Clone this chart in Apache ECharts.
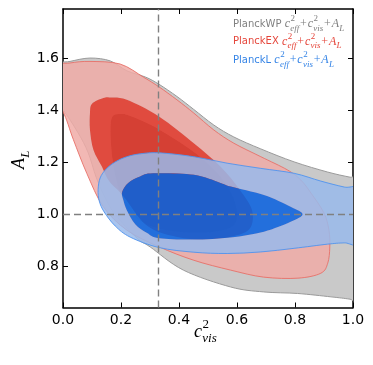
<!DOCTYPE html>
<html lang="en">
<head>
<meta charset="UTF-8">
<title>c_vis^2 - A_L</title>
<script src="https://cdn.jsdelivr.net/npm/echarts@6/dist/echarts.min.js"></script>
<style>html,body{margin:0;padding:0;background:#fff;}</style>
</head>
<body>
<div id="main" style="width:373px;height:365px;"></div>
<script type="text/javascript">
var xTicks = [0.0, 0.2, 0.4, 0.6, 0.8, 1.0];
var yTicks = [0.8, 1.0, 1.2, 1.4, 1.6];
var xRange = [0, 1];
var yRange = [0.64, 1.79];
var refX = 1 / 3;
var refY = 1.0;

// contour outlines, points are [c_vis^2, A_L]; outside points get clipped by the frame
var wpOuter = [[-0.04,1.57],[0.024,1.588],[0.093,1.601],[0.163,1.59],[0.220,1.552],[0.284,1.528],[0.331,1.500],[0.393,1.453],[0.451,1.403],[0.520,1.343],[0.589,1.297],[0.682,1.251],[0.797,1.201],[0.912,1.162],[0.99,1.142],[1.05,1.13],[1.05,0.66],[0.99,0.672],[0.924,0.681],[0.809,0.694],[0.692,0.700],[0.578,0.719],[0.415,0.784],[0.301,0.873],[0.255,0.907],[0.179,1.000],[0.144,1.066],[0.114,1.143],[0.087,1.236],[0.052,1.313],[0.0,1.402],[-0.04,1.45]];
var wpInner = [[0.168,1.37],[0.20,1.385],[0.232,1.378],[0.30,1.345],[0.37,1.30],[0.45,1.24],[0.53,1.16],[0.58,1.08],[0.60,1.0],[0.58,0.95],[0.50,0.93],[0.38,0.935],[0.29,0.96],[0.23,1.01],[0.195,1.09],[0.175,1.18],[0.165,1.28]];
var exOuter = [[-0.04,1.565],[0.024,1.582],[0.093,1.588],[0.197,1.578],[0.278,1.527],[0.331,1.490],[0.393,1.440],[0.451,1.389],[0.520,1.324],[0.589,1.273],[0.682,1.221],[0.774,1.170],[0.820,1.131],[0.855,1.081],[0.900,1.004],[0.917,0.938],[0.920,0.873],[0.913,0.811],[0.889,0.772],[0.810,0.753],[0.692,0.757],[0.578,0.784],[0.451,0.822],[0.331,0.874],[0.220,0.938],[0.139,1.028],[0.082,1.157],[0.036,1.286],[0.0,1.394],[-0.04,1.44]];
var exInner = [[0.093,1.389],[0.100,1.425],[0.139,1.447],[0.163,1.449],[0.220,1.440],[0.331,1.376],[0.451,1.273],[0.543,1.183],[0.610,1.093],[0.652,1.015],[0.645,0.945],[0.590,0.915],[0.500,0.903],[0.393,0.912],[0.290,0.955],[0.208,1.070],[0.160,1.125],[0.134,1.183],[0.105,1.247],[0.093,1.324]];
var lOuter = [[0.121,1.093],[0.128,1.139],[0.149,1.174],[0.180,1.201],[0.220,1.221],[0.266,1.232],[0.331,1.236],[0.451,1.221],[0.566,1.196],[0.682,1.176],[0.797,1.157],[0.889,1.127],[0.97,1.104],[1.04,1.09],[1.04,0.89],[0.97,0.889],[0.912,0.884],[0.797,0.868],[0.682,0.854],[0.566,0.848],[0.451,0.853],[0.331,0.871],[0.232,0.911],[0.180,0.954],[0.142,1.008],[0.125,1.050]];
var lInner = [[0.204,1.085],[0.225,1.120],[0.266,1.145],[0.311,1.157],[0.451,1.151],[0.543,1.120],[0.578,1.106],[0.693,1.073],[0.785,1.028],[0.826,0.999],[0.785,0.970],[0.693,0.932],[0.578,0.910],[0.451,0.902],[0.331,0.907],[0.290,0.927],[0.249,0.961],[0.220,1.015],[0.208,1.054]];

var chart = echarts.init(document.getElementById('main'));

// closed catmull-rom curve through pixel points, as svg path data
function curvePath(pts) {
	var n = pts.length, d = 'M' + pts[0][0] + ' ' + pts[0][1];
	for (var i = 0; i < n; i++) {
		var p0 = pts[(i - 1 + n) % n], p1 = pts[i], p2 = pts[(i + 1) % n], p3 = pts[(i + 2) % n];
		d += 'C' + (p1[0] + (p2[0] - p0[0]) / 6) + ' ' + (p1[1] + (p2[1] - p0[1]) / 6) + ' ' +
			(p2[0] - (p3[0] - p1[0]) / 6) + ' ' + (p2[1] - (p3[1] - p1[1]) / 6) + ' ' + p2[0] + ' ' + p2[1];
	}
	return d + 'Z';
}

// one series per data set: 95% band (with a hole) and 68% region, like filled contours
function contours(outer, inner, fillOut, fillIn, stroke, z) {
	return {
		type: 'custom',
		silent: true,
		z: z,
		xAxisIndex: 0,
		yAxisIndex: 0,
		data: [0],
		renderItem: function (params, api) {
			var cs = params.coordSys;
			var po = outer.map(function (p) { return api.coord(p); });
			var pi = inner.map(function (p) { return api.coord(p); });
			var outerD = curvePath(po), innerD = curvePath(pi), holeD = curvePath(pi.slice().reverse());
			return {
				type: 'group',
				clipPath: { type: 'rect', shape: { x: cs.x, y: cs.y, width: cs.width, height: cs.height } },
				children: [
					{ type: 'path', shape: { pathData: outerD + holeD }, style: { fill: fillOut } },
					{ type: 'path', shape: { pathData: innerD }, style: { fill: fillIn } },
					{ type: 'path', shape: { pathData: outerD }, style: { fill: null, stroke: stroke, lineWidth: 1 } }
				]
			};
		}
	};
}

// little mathtext helper: base glyphs with stacked super/subscripts
var mctx = document.createElement('canvas').getContext('2d');
function tw(s, font) { mctx.font = font; return mctx.measureText(s).width; }
function mathTexts(x0, y0, tokens, size, color, sansSize) {
	var out = [], x = x0;
	var ss = Math.round(size * 0.72);
	tokens.forEach(function (tk) {
		var font;
		if (tk.sans) font = (sansSize || size) + 'px "DejaVu Sans"';
		else if (tk.up) font = size + 'px "Liberation Serif"';
		else font = 'italic ' + size + 'px "Liberation Serif"';
		var pad = tk.pad || 0;
		x += pad;
		out.push({ type: 'text', x: x, y: y0, style: { text: tk.t, font: font, fill: color, textAlign: 'left', textVerticalAlign: 'middle', verticalAlign: 'middle' } });
		x += tw(tk.t, font);
		var adv = 0;
		if (tk.sup) {
			var f1 = ss + 'px "Liberation Serif"';
			out.push({ type: 'text', x: x + 0.5, y: y0 - size * 0.42, style: { text: tk.sup, font: f1, fill: color, textAlign: 'left', textVerticalAlign: 'middle', verticalAlign: 'middle' } });
			adv = Math.max(adv, tw(tk.sup, f1) + 0.5);
		}
		if (tk.sub) {
			var f2 = 'italic ' + ss + 'px "Liberation Serif"';
			out.push({ type: 'text', x: x + 0.3, y: y0 + size * 0.38, style: { text: tk.sub, font: f2, fill: color, textAlign: 'left', textVerticalAlign: 'middle', verticalAlign: 'middle' } });
			adv = Math.max(adv, tw(tk.sub, f2) + 0.3);
		}
		x += adv + pad;
	});
	return out;
}

function legendLine(name, y, color) {
	return mathTexts(233, y, [
		{ t: name + ' ', sans: true },
		{ t: 'c', sup: '2', sub: 'eff' },
		{ t: '+', up: true, pad: 0.8 },
		{ t: 'c', sup: '2', sub: 'vis' },
		{ t: '+', up: true, pad: 0.8 },
		{ t: 'A', sub: 'L' }
	], 12, color, 10);
}

var graphics = [].concat(
	legendLine('PlanckWP', 24, '#808080'),
	legendLine('PlanckEX', 41.5, '#e5463b'),
	legendLine('PlanckL', 60, '#3584e6'),
	mathTexts(194, 332, [{ t: 'c', sup: '2', sub: 'vis' }], 18, '#000'),
	[{
		type: 'group', x: 19, y: 169, rotation: Math.PI / 2,
		children: mathTexts(0, 0, [{ t: 'A', sub: 'L' }], 18, '#000')
	}]
);

var frame = { show: true, onZero: false, lineStyle: { color: '#000', width: 1.5 } };
function ticks(vals) {
	return { show: true, inside: true, length: 5, customValues: vals, lineStyle: { color: '#000', width: 1 } };
}
var labelStyle = { fontFamily: 'DejaVu Sans', fontSize: 14, color: '#000' };

var option = {
	animation: false,
	grid: { left: 63, top: 9, width: 290, height: 298.5, containLabel: false },
	xAxis: [
		{ type: 'value', position: 'bottom', min: xRange[0], max: xRange[1], axisLine: frame, axisTick: ticks(xTicks), splitLine: { show: false },
			axisLabel: Object.assign({ customValues: xTicks, margin: 6, formatter: function (v) { return v.toFixed(1); } }, labelStyle) },
		{ type: 'value', position: 'top', min: xRange[0], max: xRange[1], axisLine: frame, axisTick: ticks(xTicks), splitLine: { show: false }, axisLabel: { show: false } }
	],
	yAxis: [
		{ type: 'value', position: 'left', min: yRange[0], max: yRange[1], axisLine: frame, axisTick: ticks(yTicks), splitLine: { show: false },
			axisLabel: Object.assign({ customValues: yTicks, margin: 4, formatter: function (v) { return v.toFixed(1); } }, labelStyle) },
		{ type: 'value', position: 'right', min: yRange[0], max: yRange[1], axisLine: frame, axisTick: ticks(yTicks), splitLine: { show: false }, axisLabel: { show: false } }
	],
	graphic: graphics,
	series: [
		contours(wpOuter, wpInner, '#c9c9c9', '#7d7d7d', '#9a9a9a', 1),
		contours(exOuter, exInner, 'rgba(240,172,167,0.85)', 'rgba(228,53,39,0.85)', 'rgba(232,112,104,0.9)', 2),
		contours(lOuter, lInner, 'rgba(153,186,235,0.85)', 'rgba(0,100,228,0.85)', 'rgba(80,148,238,0.9)', 3),
		{
			type: 'line', data: [], z: 10, silent: true,
			markLine: {
				silent: true, symbol: 'none', animation: false,
				label: { show: false },
				lineStyle: { color: '#808080', type: [7, 4], width: 1.4 },
				data: [{ xAxis: refX }, { yAxis: refY }]
			}
		}
	]
};
chart.setOption(option);
</script>
</body>
</html>
